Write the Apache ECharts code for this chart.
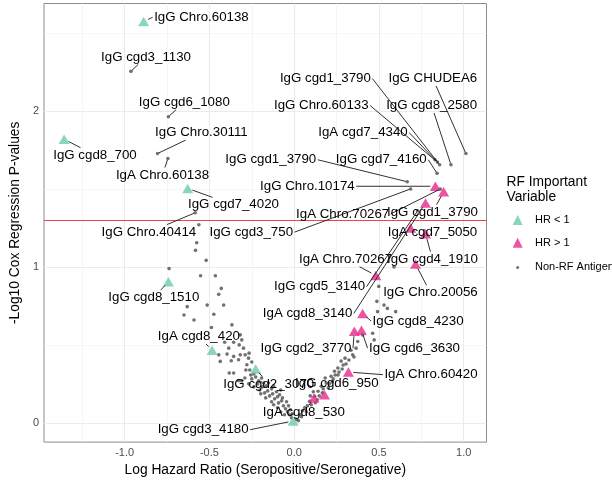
<!DOCTYPE html>
<html><head><meta charset="utf-8">
<script src="https://cdn.jsdelivr.net/npm/echarts@6/dist/echarts.min.js"></script>
<style>html,body{margin:0;padding:0;background:#fff}#c{width:612px;height:482px}</style>
</head><body><div id="c"></div>
<script>
// ---------- axes ----------
const xMin = -1.4757, xMax = 1.1347;
const yMin = -0.1224, yMax = 2.690;
const xTicks = [-1.0, -0.5, 0.0, 0.5, 1.0];
const xMinor = [-1.25, -0.75, -0.25, 0.25, 0.75];
const yTicks = [0, 1, 2];
const yMinor = [0.5, 1.5, 2.5];
const threshold = 1.30103;

// ---------- RF important, HR < 1 ----------
const lowX = [-0.888, -1.357, -0.628, -0.742, -0.484, -0.227, -0.006];
const lowY = [ 2.574,  1.820,  1.504,  0.906,  0.466,  0.346,  0.013];

// ---------- RF important, HR > 1 ----------
const highX = [0.833, 0.882, 0.775, 0.687, 0.775, 0.716, 0.482, 0.404, 0.355, 0.397, 0.320, 0.117, 0.179];
const highY = [1.518, 1.483, 1.411, 1.250, 1.214, 1.019, 0.946, 0.703, 0.589, 0.595, 0.327, 0.161, 0.182];

// ---------- Non-RF antigens ----------
const otherX = [-0.963,-0.742,-0.806,-0.745,-0.584,0.858,0.845,0.830,1.013,0.925,0.843,0.667,0.687,0.862,0.728,
 -0.562,-0.575,-0.582,-0.519,-0.738,-0.552,-0.465,-0.430,-0.445,-0.416,-0.513,-0.650,-0.591,-0.474,-0.367,-0.488,
 -0.318,-0.309,-0.357,-0.410,-0.386,-0.324,-0.266,-0.445,-0.396,-0.357,-0.318,-0.436,-0.371,-0.328,-0.250,-0.383,
 -0.357,-0.328,-0.631,-0.299,-0.289,-0.269,-0.279,
 -0.309,-0.291,-0.268,-0.250,-0.238,-0.215,-0.203,-0.186,-0.174,-0.156,-0.145,-0.127,-0.115,-0.098,-0.092,-0.074,
 -0.063,-0.051,-0.039,-0.028,-0.016,-0.098,-0.133,-0.168,-0.197,-0.238,-0.262,-0.180,
 -0.285,-0.256,-0.227,-0.209,-0.192,-0.163,-0.151,-0.133,-0.121,-0.104,-0.086,-0.080,-0.069,-0.045,-0.033,-0.022,
 -0.010,-0.057,-0.080,-0.121,
 0.013,0.033,0.043,0.062,0.072,0.091,0.101,0.121,0.136,0.141,0.160,0.166,0.189,0.201,0.218,0.224,0.238,0.258,
 0.259,0.277,0.283,0.306,0.345,0.365,0.375,0.463,0.472,0.488,0.530,0.550,0.599,0.499,0.589,0.404,0.492,
 0.025,0.049,0.078,0.095,0.113,0.125,0.148,0.171,0.183,0.207,0.230,0.242,0.265,0.289,0.300,0.323,0.335,0.353];
const otherY = [2.255,1.964,1.728,1.696,1.348,1.656,1.673,1.689,1.728,1.656,1.601,1.547,1.501,1.500,1.360,
 1.271,1.156,1.107,1.043,0.990,0.944,0.944,0.863,0.825,0.756,0.756,0.693,0.661,0.697,0.629,0.612,
 0.565,0.533,0.518,0.518,0.480,0.501,0.448,0.437,0.442,0.427,0.437,0.395,0.399,0.406,0.391,0.321,
 0.321,0.272,0.746,0.480,0.437,0.416,0.374,
 0.270,0.289,0.251,0.283,0.232,0.251,0.212,0.232,0.193,0.206,0.174,0.187,0.155,0.168,0.129,0.142,
 0.110,0.091,0.072,0.053,0.034,0.098,0.136,0.161,0.187,0.314,0.340,0.257,
 0.340,0.308,0.295,0.270,0.289,0.238,0.257,0.219,0.238,0.200,0.181,0.212,0.161,0.136,0.110,0.085,
 0.059,0.053,0.072,0.117,
 0.023,0.055,0.040,0.098,0.072,0.140,0.117,0.172,0.149,0.204,0.236,0.193,0.257,0.225,0.300,0.263,0.332,0.353,
 0.308,0.397,0.346,0.378,0.437,0.480,0.523,0.576,0.533,0.780,0.756,0.735,0.714,0.876,1.001,0.565,0.714,
 0.015,0.078,0.110,0.174,0.200,0.130,0.174,0.219,0.289,0.251,0.283,0.308,0.327,0.372,0.416,0.404,0.467,0.423];

// ---------- labels: text, group of the labelled point, index, label anchor ----------
const labelText = ['IgG Chro.60138','IgG cgd3_1130','IgG cgd6_1080','IgG Chro.30111','IgG cgd8_700','IgA Chro.60138',
 'IgG cgd7_4020','IgG Chro.40414','IgG cgd8_1510','IgA cgd8_420','IgG cgd2_3070','IgG cgd3_4180',
 'IgG cgd1_3790','IgG CHUDEA6','IgG Chro.60133','IgG cgd8_2580','IgA cgd7_4340','IgG cgd1_3790','IgG cgd7_4160',
 'IgG Chro.10174','IgA Chro.70267','IgG cgd1_3790','IgG cgd3_750','IgA cgd7_5050','IgA Chro.70267','IgG cgd4_1910',
 'IgG cgd5_3140','IgG Chro.20056','IgA cgd8_3140','IgG cgd8_4230','IgG cgd2_3770','IgG cgd6_3630','IgA Chro.60420',
 'IgG cgd6_950','IgA cgd8_530'];
const labelGroup = ['L','O','O','O','L','O','L','O','L','L','L','L',
 'O','O','O','O','O','O','O','H','O','H','O','H','H','H','O','H','H','H','H','H','H','H','H'];
const labelIndex = [0,0,1,2,1,3,2,4,3,4,5,6, 5,8,6,9,7,11,10, 0,13,1,12,3,6,4,14,5,2,7,8,9,10,12,11];
const labelX = [-0.547,-0.874,-0.648,-0.547,-1.175,-0.777,-0.358,-0.857,-0.828,-0.562,-0.150,-0.537,
 0.184,0.818,0.160,0.811,0.406,-0.138,0.514,0.078,0.286,0.816,-0.253,0.816,0.303,0.816,0.150,0.804,0.079,
 0.731,0.070,0.710,0.807,0.252,0.057];
const labelY = [2.602,2.347,2.057,1.862,1.717,1.590,1.399,1.224,0.804,0.555,0.251,-0.043,
 2.209,2.209,2.036,2.036,1.862,1.688,1.688,1.518,1.341,1.352,1.224,1.224,1.050,1.050,0.874,0.835,0.703,
 0.654,0.480,0.480,0.310,0.257,0.066];

// ---------- build ----------
const FONT = '"Liberation Sans", Arial, Helvetica, sans-serif';
const LABEL_SIZE = 13.3;
const TEAL = '#6dcbb0', PINK = '#e7298a', GRAY = '#4d4d4d';
const zip = (a, b) => a.map((v, i) => [v, b[i]]);
const groups = {L: [lowX, lowY], H: [highX, highY], O: [otherX, otherY]};
const labelData = labelText.map((t, i) => {
  const g = groups[labelGroup[i]];
  return [g[0][labelIndex[i]], g[1][labelIndex[i]], labelX[i], labelY[i], labelGroup[i] === 'O' ? 0 : 1];
});
const mctx = document.createElement('canvas').getContext('2d');
mctx.font = LABEL_SIZE + 'px ' + FONT;

function renderLabel(params, api) {
  const i = params.dataIndex;
  const p = api.coord([api.value(0), api.value(1)]);
  const c = api.coord([api.value(2), api.value(3)]);
  const tri = api.value(4) === 1;
  const text = labelText[i];
  const hw = mctx.measureText(text).width / 2 + 1.5, hh = 7.5;
  let o = null;
  if (p[0] < c[0] - hw) o = [c[0] - hw, c[1]];
  else if (p[0] > c[0] + hw) o = [c[0] + hw, c[1]];
  else if (Math.abs(p[1] - c[1]) > hh) {
    const s = p[1] > c[1] ? 1 : -1;
    const t = hh / Math.abs(p[1] - c[1]);
    o = [c[0] + t * (p[0] - c[0]), c[1] + s * hh];
  }
  const children = [];
  if (o) {
    const dx = o[0] - p[0], dy = o[1] - p[1];
    const L = Math.hypot(dx, dy);
    const pad = tri ? 5 : 1.5;
    if (L - pad > 3) {
      children.push({type: 'line', shape: {x1: o[0], y1: o[1], x2: p[0] + dx * pad / L, y2: p[1] + dy * pad / L},
        style: {stroke: '#1a1a1a', lineWidth: 0.9}});
    }
  }
  children.push({type: 'text', style: {text: text, x: c[0], y: c[1], align: 'center', verticalAlign: 'middle',
    fontSize: LABEL_SIZE, fontFamily: FONT, fill: '#000'}});
  return {type: 'group', children: children};
}

const gridLines = [].concat(
  xMinor.map(v => ({xAxis: v, lineStyle: {color: '#f4f4f4', width: 0.8, type: 'solid'}})),
  yMinor.map(v => ({yAxis: v, lineStyle: {color: '#f4f4f4', width: 0.8, type: 'solid'}})),
  xTicks.map(v => ({xAxis: v, lineStyle: {color: '#ebebeb', width: 1.1, type: 'solid'}})),
  yTicks.map(v => ({yAxis: v, lineStyle: {color: '#ebebeb', width: 1.1, type: 'solid'}}))
);

const chart = echarts.init(document.getElementById('c'), null, {renderer: 'canvas'});
chart.setOption({
  animation: false,
  backgroundColor: '#fff',
  textStyle: {fontFamily: FONT},
  grid: {left: 40.7, right: 125.5, top: 3.5, bottom: 37.5, show: true, borderColor: '#8c8c8c', borderWidth: 1, backgroundColor: 'transparent'},
  xAxis: {
    type: 'value', min: xMin, max: xMax,
    name: 'Log Hazard Ratio (Seropositive/Seronegative)', nameLocation: 'middle', nameGap: 16,
    nameTextStyle: {fontSize: 13.8, color: '#000', fontFamily: FONT, verticalAlign: 'top'},
    axisLine: {show: false},
    axisTick: {show: true, length: 3, customValues: xTicks, lineStyle: {color: '#8c8c8c', width: 1}},
    axisLabel: {customValues: xTicks, formatter: v => v.toFixed(1), color: '#4d4d4d', fontSize: 11, margin: 5, fontFamily: FONT},
    splitLine: {show: false}
  },
  yAxis: {
    type: 'value', min: yMin, max: yMax,
    name: '-Log10 Cox Regression P-values', nameLocation: 'middle', nameGap: 20, nameRotate: 90,
    nameTextStyle: {fontSize: 13.8, color: '#000', fontFamily: FONT},
    axisLine: {show: false},
    axisTick: {show: true, length: 3, customValues: yTicks, lineStyle: {color: '#8c8c8c', width: 1}},
    axisLabel: {customValues: yTicks, formatter: v => String(v), color: '#4d4d4d', fontSize: 11, margin: 5, fontFamily: FONT},
    splitLine: {show: false}
  },
  legend: [{
    data: ['HR < 1', 'HR > 1'], orient: 'vertical', left: 512.7, top: 214.5, padding: 0,
    itemWidth: 10, itemHeight: 10, itemGap: 11.7, icon: 'triangle', selectedMode: false,
    textStyle: {fontSize: 11, color: '#000', fontFamily: FONT, padding: [0, 0, 0, 7.3]}
  }, {
    data: ['Non-RF Antigen'], orient: 'vertical', left: 516.2, top: 261.9, padding: 0,
    itemWidth: 3, itemHeight: 3, icon: 'circle', selectedMode: false,
    textStyle: {fontSize: 11, color: '#000', fontFamily: FONT, padding: [0, 0, 0, 10.8]}
  }],
  graphic: [
    {type: 'text', left: 506.5, top: 175, style: {text: 'RF Important\nVariable', fontSize: 13.8, lineHeight: 14.5, fontFamily: FONT, fill: '#000'}}
  ],
  series: [
    {type: 'scatter', name: 'grid', data: [], silent: true, z: 0,
      markLine: {silent: true, symbol: 'none', z: 1, label: {show: false}, animation: false, data: gridLines}},
    {type: 'scatter', name: 'Non-RF Antigen', data: zip(otherX, otherY), symbol: 'circle', symbolSize: 3.6,
      itemStyle: {color: GRAY}, z: 3, silent: true,
      markLine: {silent: true, symbol: 'none', z: 2, label: {show: false}, animation: false,
        data: [{yAxis: threshold, lineStyle: {color: '#ee4444', width: 1, type: 'solid'}}]}},
    {type: 'scatter', name: 'HR < 1', data: zip(lowX, lowY), symbol: 'triangle', symbolSize: [11, 9.5],
      itemStyle: {color: TEAL}, z: 4, silent: true},
    {type: 'scatter', name: 'HR > 1', data: zip(highX, highY), symbol: 'triangle', symbolSize: [11, 9.5],
      itemStyle: {color: PINK}, z: 4, silent: true},
    {type: 'custom', name: 'labels', data: labelData, renderItem: renderLabel, z: 6, silent: true, clip: false,
      encode: {x: [0, 2], y: [1, 3]}}
  ]
});
</script></body></html>
